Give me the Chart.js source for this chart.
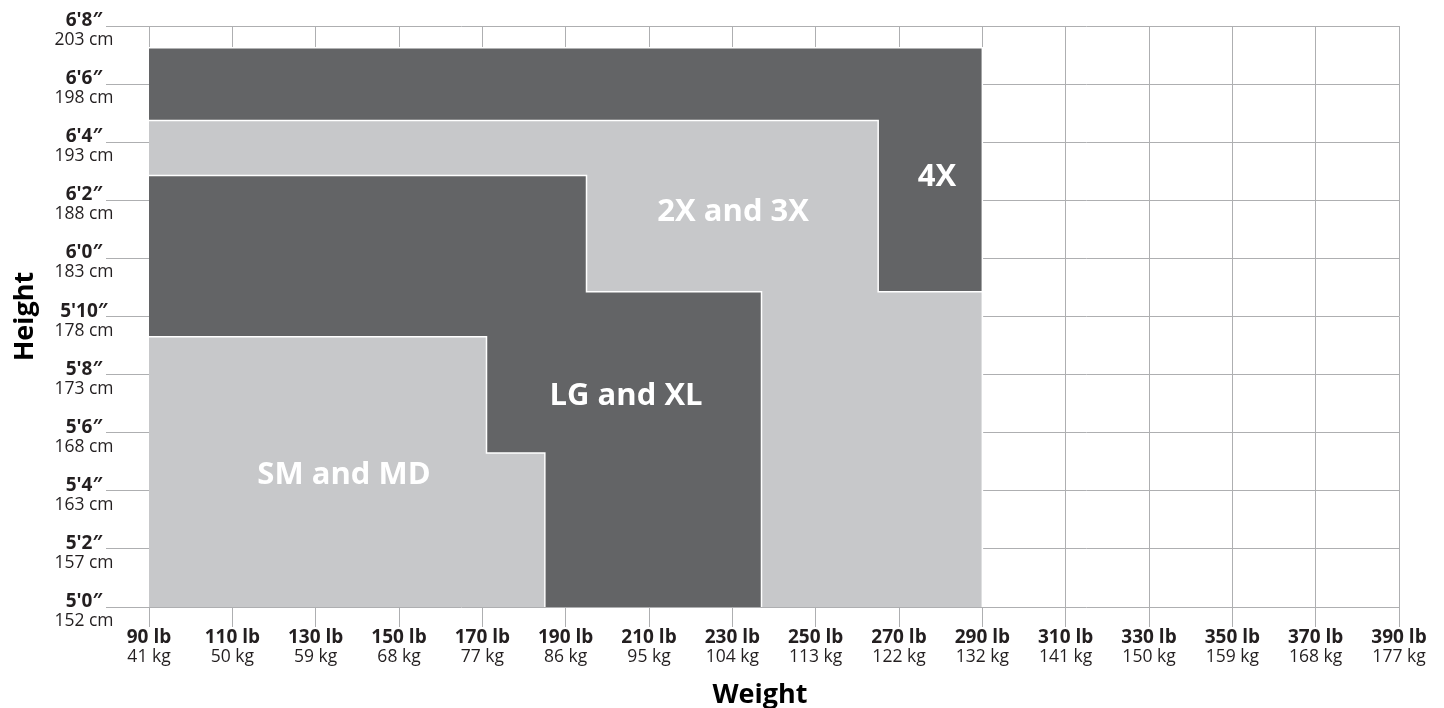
<!DOCTYPE html>
<html>
<head>
<meta charset="utf-8">
<script src="https://cdn.jsdelivr.net/npm/chart.js@4.4.1/dist/chart.umd.min.js"></script>
<style>
  html, body { margin: 0; padding: 0; background: #fff; }
  #wrap { width: 1444px; height: 708px; position: relative; }
</style>
</head>
<body>
<div id="wrap"><canvas id="chart"></canvas></div>
<script>
// tick labels
const weightTicks = [90, 110, 130, 150, 170, 190, 210, 230, 250, 270, 290, 310, 330, 350, 370, 390];
const lbLabels = ['90 lb', '110 lb', '130 lb', '150 lb', '170 lb', '190 lb', '210 lb', '230 lb', '250 lb', '270 lb', '290 lb', '310 lb', '330 lb', '350 lb', '370 lb', '390 lb'];
const kgLabels = ['41 kg', '50 kg', '59 kg', '68 kg', '77 kg', '86 kg', '95 kg', '104 kg', '113 kg', '122 kg', '132 kg', '141 kg', '150 kg', '159 kg', '168 kg', '177 kg'];
const heightTicks = [60, 62, 64, 66, 68, 70, 72, 74, 76, 78, 80]; // inches
const ftLabels = ['5\'0\u2033', '5\'2\u2033', '5\'4\u2033', '5\'6\u2033', '5\'8\u2033', '5\'10\u2033', '6\'0\u2033', '6\'2\u2033', '6\'4\u2033', '6\'6\u2033', '6\'8\u2033'];
const cmLabels = ['152 cm', '157 cm', '163 cm', '168 cm', '173 cm', '178 cm', '183 cm', '188 cm', '193 cm', '198 cm', '203 cm'];

// size regions: top edge (height in inches) up to each weight (lb)
const sizeNames = ['SM and MD', 'LG and XL', '2X and 3X', '4X'];
const smWeights = [90, 171, 185, 185];
const smHeights = [69.3, 65.3, 65.3, 60];
const lgWeights = [90, 195, 237, 237];
const lgHeights = [74.85, 70.85, 70.85, 60];
const xxWeights = [90, 265, 290, 290];
const xxHeights = [76.75, 70.85, 70.85, 60];
const x4Weights = [90, 290, 290];
const x4Heights = [79.25, 79.25, 60];

// where the size names sit (lb, inches)
const nameWeights = [136.8, 204.5, 230.2, 279.1];
const nameHeights = [64.55, 67.25, 73.6, 74.8];

const DARK = '#636466';
const LIGHT = '#c7c8ca';
const FONT = '"Open Sans", "DejaVu Sans", sans-serif';

function toPoints(ws, hs) {
    return ws.map((w, i) => ({ x: w, y: hs[i] }));
}

function region(label, ws, hs, color) {
    return {
        label: label,
        data: toPoints(ws, hs),
        stepped: 'before', // horizontal first, then drop
        fill: 'start',
        backgroundColor: color,
        borderColor: '#ffffff',
        borderWidth: 1.5,
        pointRadius: 0
    };
}

const textPlugin = {
    id: 'textPlugin',
    afterDatasetsDraw(chart) {
        const ctx = chart.ctx;
        const xs = chart.scales.x, ys = chart.scales.y;
        ctx.save();
        ctx.fillStyle = '#ffffff';
        ctx.textAlign = 'center';
        ctx.textBaseline = 'middle';
        ctx.font = 'bold 31px ' + FONT;
        sizeNames.forEach((name, i) => {
            ctx.fillText(name, xs.getPixelForValue(nameWeights[i]), ys.getPixelForValue(nameHeights[i]));
        });
        ctx.restore();
    },
    afterDraw(chart) {
        const ctx = chart.ctx;
        const xs = chart.scales.x, ys = chart.scales.y;
        ctx.save();
        ctx.fillStyle = '#231f20';
        ctx.textAlign = 'center';
        ctx.textBaseline = 'alphabetic';

        weightTicks.forEach((w, i) => {
            const px = xs.getPixelForValue(w);
            ctx.font = 'bold 19px ' + FONT;
            ctx.fillText(lbLabels[i], px, ys.bottom + 36);
            ctx.font = '17.5px ' + FONT;
            ctx.fillText(kgLabels[i], px, ys.bottom + 55);
        });

        heightTicks.forEach((h, i) => {
            const py = ys.getPixelForValue(h);
            ctx.font = 'bold 19px ' + FONT;
            ctx.fillText(ftLabels[i], 84, py);
            ctx.font = '17.5px ' + FONT;
            ctx.fillText(cmLabels[i], 84, py + 19);
        });

        // axis titles
        ctx.fillStyle = '#000000';
        ctx.font = 'bold 27px ' + FONT;
        ctx.fillText('Weight', 760, 703);
        ctx.translate(33, (ys.top + ys.bottom) / 2);
        ctx.rotate(-Math.PI / 2);
        ctx.fillText('Height', 0, 0);
        ctx.restore();
    }
};

const ctx = document.getElementById('chart').getContext('2d');
new Chart(ctx, {
    type: 'line',
    data: {
        datasets: [
            region(sizeNames[0], smWeights, smHeights, LIGHT),
            region(sizeNames[1], lgWeights, lgHeights, DARK),
            region(sizeNames[2], xxWeights, xxHeights, LIGHT),
            region(sizeNames[3], x4Weights, x4Heights, DARK)
        ]
    },
    options: {
        responsive: true,
        maintainAspectRatio: false,
        animation: false,
        layout: { padding: { left: 106, right: 45, top: 26, bottom: 81 } },
        plugins: {
            legend: { display: false },
            tooltip: { enabled: false }
        },
        scales: {
            x: {
                type: 'linear',
                min: 90,
                max: 390,
                ticks: { stepSize: 20, display: false },
                grid: { color: '#aeafb1', lineWidth: 1, tickLength: 20 },
                border: { display: false }
            },
            y: {
                type: 'linear',
                min: 60,
                max: 80,
                ticks: { stepSize: 2, display: false },
                grid: { color: '#aeafb1', lineWidth: 1, tickLength: 43 },
                border: { display: false }
            }
        }
    },
    plugins: [textPlugin]
});
</script>
</body>
</html>
